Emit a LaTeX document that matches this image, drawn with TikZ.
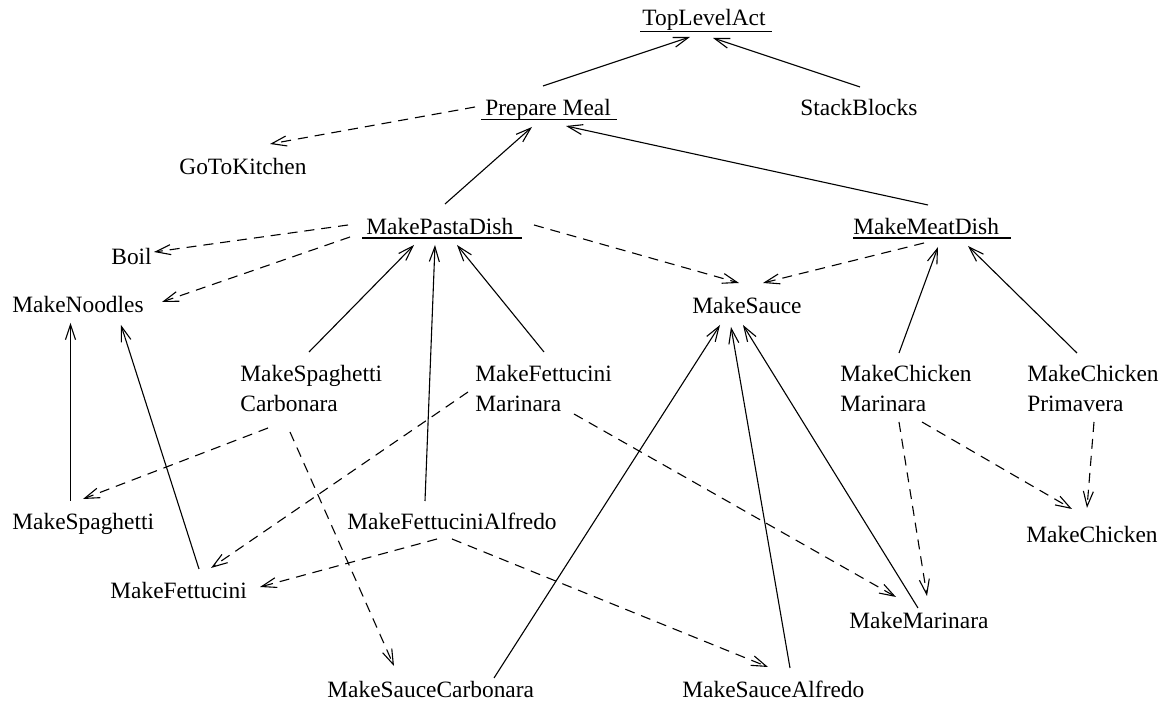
\documentclass[tikz,border=0pt]{standalone}
\usepackage{fontspec}
\setmainfont{Liberation Serif}
\usetikzlibrary{arrows.meta}
\begin{document}
\begin{tikzpicture}[x=0.5pt,y=-0.5pt,
  lbl/.style={anchor=base west, inner sep=0pt, font=\fontsize{11.7pt}{15pt}\selectfont},
  edge/.style={line width=0.55pt, -{Straight Barb[length=7.5pt,width=5pt]}},
  uses/.style={edge},
  calls/.style={edge, dash pattern=on 5pt off 3.5pt},
  uline/.style={line width=0.55pt}]
\useasboundingbox (0,0) rectangle (1164,704);

% activities
\node[lbl] (tla)   at (642,26)  {TopLevelAct};
\node[lbl] (pm)    at (485,116) {Prepare Meal};
\node[lbl] (sb)    at (800,116) {StackBlocks};
\node[lbl] (gtk)   at (179,175) {GoToKitchen};
\node[lbl] (mpd)   at (366,235) {MakePastaDish};
\node[lbl] (mmd)   at (853,235) {MakeMeatDish};
\node[lbl] (boil)  at (111,265) {Boil};
\node[lbl] (mn)    at (12,313)  {MakeNoodles};
\node[lbl] (ms)    at (692,314) {MakeSauce};
\node[lbl] (msc)   at (240,382) {\begin{tabular}[t]{@{}l@{}}MakeSpaghetti\\Carbonara\end{tabular}};
\node[lbl] (mfm)   at (475,382) {\begin{tabular}[t]{@{}l@{}}MakeFettucini\\Marinara\end{tabular}};
\node[lbl] (mcm)   at (840,382) {\begin{tabular}[t]{@{}l@{}}MakeChicken\\Marinara\end{tabular}};
\node[lbl] (mcp)   at (1027,382) {\begin{tabular}[t]{@{}l@{}}MakeChicken\\Primavera\end{tabular}};
\node[lbl] (mspag) at (12,530)  {MakeSpaghetti};
\node[lbl] (mfa)   at (347,530) {MakeFettuciniAlfredo};
\node[lbl] (mch)   at (1026,543) {MakeChicken};
\node[lbl] (mf)    at (110,599) {MakeFettucini};
\node[lbl] (mm)    at (849,629) {MakeMarinara};
\node[lbl] (msca)  at (327,698) {MakeSauceCarbonara};
\node[lbl] (msa)   at (682,698) {MakeSauceAlfredo};

% underlined (top-level) activities
\draw[uline] ([shift={(-2,5.5)}]tla.base west) -- ([shift={(130,5.5)}]tla.base west);
\draw[uline] ([shift={(-4,3.5)}]pm.base west) -- ([shift={(132,3.5)}]pm.base west);
\draw[uline] ([shift={(-4,3)}]mpd.base west) -- ([shift={(156,3)}]mpd.base west);
\draw[uline] ([shift={(0,3)}]mmd.base west) -- ([shift={(158,3)}]mmd.base west);

% specialisation links (solid)
\draw[uses] ([shift={(58,-30)}]pm.base west)    -- ([shift={(48,11)}]tla.base west);
\draw[uses] ([shift={(60,-29)}]sb.base west)    -- ([shift={(71,12)}]tla.base west);
\draw[uses] ([shift={(79,-31)}]mpd.base west)   -- ([shift={(47,11)}]pm.base west);
\draw[uses] ([shift={(75,-30)}]mmd.base west)   -- ([shift={(81,10)}]pm.base west);
\draw[uses] ([shift={(69,-30)}]msc.base west)   -- ([shift={(48,10)}]mpd.base west);
\draw[uses] ([shift={(78,-29)}]mfa.base west)   -- ([shift={(69,10)}]mpd.base west);
\draw[uses] ([shift={(69,-30)}]mfm.base west)   -- ([shift={(91,10)}]mpd.base west);
\draw[uses] ([shift={(58.5,-29)}]mspag.base west) -- ([shift={(58.5,10)}]mn.base west);
\draw[uses] ([shift={(89,-30)}]mf.base west)    -- ([shift={(109,12)}]mn.base west);
\draw[uses] ([shift={(167,-20)}]msca.base west) -- ([shift={(28,11)}]ms.base west);
\draw[uses] ([shift={(108,-30)}]msa.base west)  -- ([shift={(39,13)}]ms.base west);
\draw[uses] ([shift={(69,-21)}]mm.base west)    -- ([shift={(51,11)}]ms.base west);
\draw[uses] ([shift={(59,-29)}]mcm.base west)   -- ([shift={(85,12)}]mmd.base west);
\draw[uses] ([shift={(50,-29)}]mcp.base west)   -- ([shift={(115,11)}]mmd.base west);

% decomposition links (dashed)
\draw[calls] ([shift={(-10,-9)}]pm.base west)  -- ([shift={(91,-31)}]gtk.base west);
\draw[calls] ([shift={(-18,-10)}]mpd.base west) -- ([shift={(43,-13)}]boil.base west);
\draw[calls] ([shift={(-16,2)}]mpd.base west)   -- ([shift={(150,-11)}]mn.base west);
\draw[calls] ([shift={(168,-10)}]mpd.base west) -- ([shift={(47,-31)}]ms.base west);
\draw[calls] ([shift={(71,8)}]mmd.base west)    -- ([shift={(71,-31)}]ms.base west);
\draw[calls] ([shift={(28,46)}]msc.base west)   -- ([shift={(71,-31)}]mspag.base west);
\draw[calls] ([shift={(50,50)}]msc.base west)   -- ([shift={(67,-32)}]msca.base west);
\draw[calls] ([shift={(-7,10)}]mfm.base west)   -- ([shift={(101,-31)}]mf.base west);
\draw[calls] ([shift={(99,32)}]mfm.base west)   -- ([shift={(47,-32)}]mm.base west);
\draw[calls] ([shift={(90,9)}]mfa.base west)    -- ([shift={(150,-12)}]mf.base west);
\draw[calls] ([shift={(105,9)}]mfa.base west)   -- ([shift={(86,-31)}]msa.base west);
\draw[calls] ([shift={(59,40)}]mcm.base west)   -- ([shift={(78,-33)}]mm.base west);
\draw[calls] ([shift={(82,40)}]mcm.base west)   -- ([shift={(46,-34)}]mch.base west);
\draw[calls] ([shift={(67,40)}]mcp.base west)   -- ([shift={(61,-35)}]mch.base west);
\end{tikzpicture}
\end{document}
